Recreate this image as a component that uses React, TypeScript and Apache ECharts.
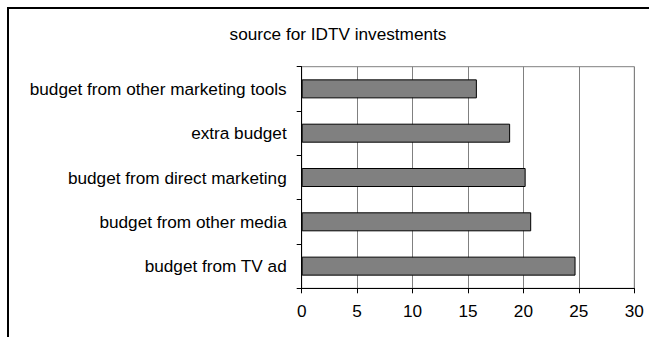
import React, { useEffect, useRef } from "react";
import * as echarts from "echarts";

const chartTitle = "source for IDTV investments";
const categories = [
  "budget from other marketing tools",
  "extra budget",
  "budget from direct marketing",
  "budget from other media",
  "budget from TV ad",
];
const values = [15.8, 18.8, 20.2, 20.7, 24.7];
const xMin = 0;
const xMax = 30;
const xStep = 5;

const FONT = "'Liberation Sans', Arial, sans-serif";
const FS = 17.2;

export default function App() {
  const ref = useRef<HTMLDivElement>(null);

  useEffect(() => {
    if (!ref.current) return;
    const chart = echarts.init(ref.current, undefined, { renderer: "svg" });
    chart.setOption({
      animation: false,
      backgroundColor: "#ffffff",
      title: {
        text: chartTitle,
        left: 333,
        top: 20,
        textAlign: "center",
        textStyle: { fontFamily: FONT, fontSize: FS, fontWeight: "normal", color: "#000" },
      },
      graphic: [
        {
          type: "rect",
          shape: { x: 8, y: 8, width: 800, height: 500 },
          style: { fill: "none", stroke: "#000", lineWidth: 2 },
          silent: true,
        },
      ],
      grid: {
        left: 301.7,
        right: 14.7,
        top: 66.7,
        bottom: 48.7,
        show: true,
        borderColor: "#808080",
        borderWidth: 1,
      },
      xAxis: {
        type: "value",
        min: xMin,
        max: xMax,
        interval: xStep,
        axisLine: { show: true, lineStyle: { color: "#000", width: 1 } },
        axisTick: { show: true, length: 5, lineStyle: { color: "#000" } },
        axisLabel: { fontFamily: FONT, fontSize: FS, color: "#000", margin: 14 },
        splitLine: { show: true, lineStyle: { color: "#808080", width: 1 } },
      },
      yAxis: {
        type: "category",
        data: categories,
        inverse: true,
        axisLine: { show: true, lineStyle: { color: "#000", width: 1 } },
        axisTick: { show: true, length: 5, lineStyle: { color: "#000" } },
        axisLabel: { fontFamily: FONT, fontSize: FS, color: "#000", margin: 15 },
        splitLine: { show: false },
      },
      series: [
        {
          type: "bar",
          data: values,
          barWidth: 19,
          itemStyle: { color: "#808080", borderColor: "#000", borderWidth: 1 },
        },
      ],
    });
    return () => chart.dispose();
  }, []);

  return (
    <div
      ref={ref}
      style={{ position: "absolute", left: 0, top: 0, width: 649, height: 337 }}
    />
  );
}
